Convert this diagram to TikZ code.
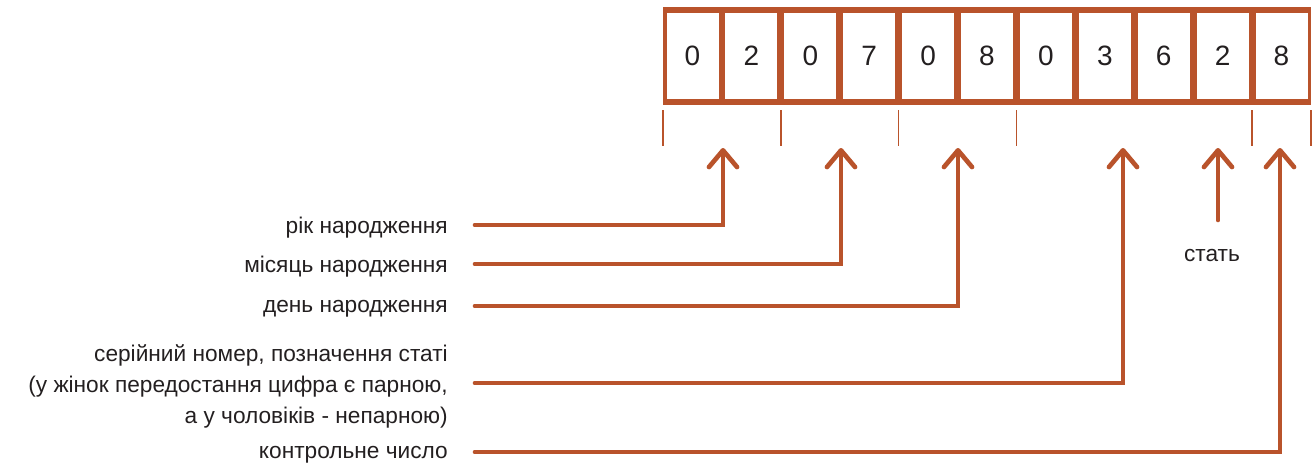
\documentclass[tikz,border=0pt]{standalone}
\usepackage{fontspec}
\setmainfont{Liberation Sans}
\usetikzlibrary{arrows.meta}
\definecolor{rust}{HTML}{B9532B}
\definecolor{ink}{HTML}{231F20}
\begin{document}
\begin{tikzpicture}[x=0.75pt,y=-0.75pt,font=\fontsize{17}{23.25}\selectfont,
  cell/.style={draw=rust,line width=2.6pt,minimum width=41.6pt,minimum height=70.9pt,inner sep=0pt,text=ink,font=\fontsize{21}{24}\selectfont},
  band/.style={rust,line width=4.5pt},
  tick/.style={rust,line width=1.3pt},
  lead/.style={rust,line width=3.5pt,line cap=round,-{Straight Barb[length=12.5pt,width=21pt,round]}},
  lbl/.style={anchor=east,inner sep=0pt,text=ink,align=right}]
  \useasboundingbox (0,0) rectangle (1314,468);
  % the code digits
  \foreach \d [count=\i from 0] in {0,2,0,7,0,8,0,3,6,2,8}
    \node[cell] (c\i) at (692.5+58.9*\i,56) {\d};
  \draw[band] ([yshift=-2.25pt]c0.north west) -- ([yshift=-2.25pt]c10.north east);
  \draw[band] ([yshift=2.25pt]c0.south west) -- ([yshift=2.25pt]c10.south east);
  \foreach \k in {0,2,4,6,10,11}
    \draw[tick] (663+58.9*\k,110) -- ++(0,36);
  % arrow tips under the cells
  \coordinate (yearTip) at (723,148);
  \coordinate (monthTip) at (841,148);
  \coordinate (dayTip) at (958,148);
  \coordinate (serialTip) at (1123,148);
  \coordinate (sexTip) at (1218,148);
  \coordinate (checkTip) at (1280,148);
  \coordinate (sexFoot) at (1218,220);
  % labels
  \node[lbl] (yearLbl) at (448,228) {рік народження};
  \node[lbl] (monthLbl) at (448,267) {місяць народження};
  \node[lbl] (dayLbl) at (448,309) {день народження};
  \node[lbl] (serialLbl) at (448,386) {серійний номер, позначення статі\\(у жінок передостання цифра є парною,\\а у чоловіків - непарною)};
  \node[lbl] (checkLbl) at (448,455) {контрольне число};
  \node[text=ink,inner sep=0pt] (sexLbl) at (1212,256) {стать};
  \draw[lead] (yearLbl.east) ++(27,-3) -| (yearTip);
  \draw[lead] (monthLbl.east) ++(27,-3) -| (monthTip);
  \draw[lead] (dayLbl.east) ++(27,-3) -| (dayTip);
  \draw[lead] (serialLbl.east) ++(27,-3) -| (serialTip);
  \draw[lead] (checkLbl.east) ++(27,-3) -| (checkTip);
  \draw[lead] (sexFoot) -- (sexTip);
\end{tikzpicture}
\end{document}
